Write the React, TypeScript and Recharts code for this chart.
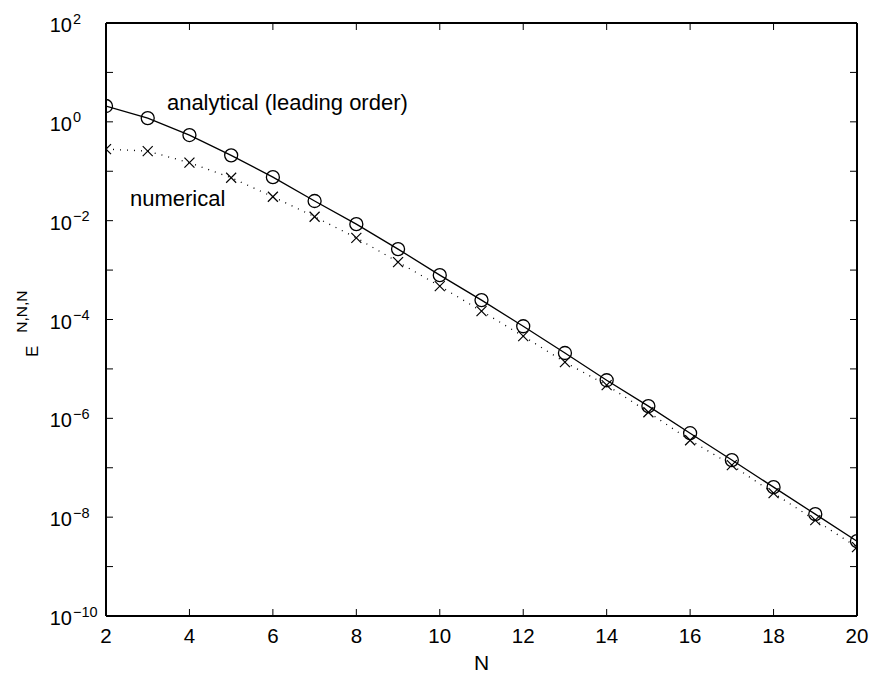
import React from 'react';
import {
  ComposedChart,
  Line,
  XAxis,
  YAxis,
  ReferenceLine,
  ReferenceDot,
} from 'recharts';

// N values and E^{N,N,N}
const nValues = [2, 3, 4, 5, 6, 7, 8, 9, 10, 11, 12, 13, 14, 15, 16, 17, 18, 19, 20];
const analytical = [
  2.09, 1.19, 0.54, 0.21, 0.076, 0.025, 0.0085, 0.00266, 7.9e-4, 2.47e-4,
  7.3e-5, 2.1e-5, 5.9e-6, 1.77e-6, 5.0e-7, 1.43e-7, 4.05e-8, 1.15e-8, 3.27e-9,
];
const numerical = [
  0.28, 0.256, 0.149, 0.074, 0.0305, 0.012, 0.0045, 1.45e-3, 4.74e-4, 1.48e-4,
  4.6e-5, 1.37e-5, 4.7e-6, 1.33e-6, 3.6e-7, 1.13e-7, 3.06e-8, 8.7e-9, 2.47e-9,
];
const xTicks = [2, 4, 6, 8, 10, 12, 14, 16, 18, 20];
const yTicks = [1e-10, 1e-9, 1e-8, 1e-7, 1e-6, 1e-5, 1e-4, 1e-3, 1e-2, 1e-1, 1, 10, 100];

const W = 873;
const H = 677;
const PLOT_LEFT = 106;
const PLOT_TOP = 23;
const PLOT_RIGHT = 857;
const PLOT_BOTTOM = 616;
const PLOT_W = PLOT_RIGHT - PLOT_LEFT;
const PLOT_H = PLOT_BOTTOM - PLOT_TOP;
const Y_AXIS_W = 60;
const X_AXIS_H = 40;
const TICK_LEN = 7;
const FONT = '"Liberation Sans", Arial, Helvetica, sans-serif';

const data = nValues.map((n, i) => ({ n, analytical: analytical[i], numerical: numerical[i] }));

function YTick(props: any) {
  const { x, y, payload } = props;
  const exp = Math.round(Math.log10(payload.value));
  const showLabel = exp % 2 === 0;
  const expText = exp < 0 ? `\u2212${Math.abs(exp)}` : `${exp}`;
  return (
    <g>
      <line x1={x} x2={x + TICK_LEN} y1={y} y2={y} stroke="#000" strokeWidth={1} />
      <line x1={x + PLOT_W} x2={x + PLOT_W - TICK_LEN} y1={y} y2={y} stroke="#000" strokeWidth={1} />
      {showLabel && (
        <>
          <text x={x - 34} y={y + 9} textAnchor="end" fontSize={20} fontFamily={FONT} fill="#000">
            10
          </text>
          <text x={x - 33} y={y + 0.5} textAnchor="start" fontSize={14.5} fontFamily={FONT} fill="#000">
            {expText}
          </text>
        </>
      )}
    </g>
  );
}

function XTick(props: any) {
  const { x, y, payload } = props;
  return (
    <g>
      <line x1={x} x2={x} y1={y} y2={y - TICK_LEN} stroke="#000" strokeWidth={1} />
      <line x1={x} x2={x} y1={y - PLOT_H} y2={y - PLOT_H + TICK_LEN} stroke="#000" strokeWidth={1} />
      <text x={x} y={y + 27} textAnchor="middle" fontSize={20.5} fontFamily={FONT} fill="#000">
        {payload.value}
      </text>
    </g>
  );
}

function CircleDot(props: any) {
  const { cx, cy } = props;
  if (cx == null || cy == null) return null;
  return <circle cx={cx} cy={cy} r={6.5} fill="none" stroke="#000" strokeWidth={1.3} />;
}

function CrossDot(props: any) {
  const { cx, cy } = props;
  if (cx == null || cy == null) return null;
  const s = 5;
  return (
    <g stroke="#000" strokeWidth={1.2}>
      <line x1={cx - s} y1={cy - s} x2={cx + s} y2={cy + s} />
      <line x1={cx - s} y1={cy + s} x2={cx + s} y2={cy - s} />
    </g>
  );
}

const textAt = (label: string) => (p: any) => (
  <text x={p.cx} y={p.cy} fontSize={22} fontFamily={FONT} fill="#000">
    {label}
  </text>
);

const YLabel = () => (
  <text
    transform={`translate(38, 357) rotate(-90)`}
    fontFamily={FONT}
    fill="#000"
  >
    <tspan fontSize={17}>E</tspan>
    <tspan fontSize={15.5} dx={13} dy={-11}>
      N,N,N
    </tspan>
  </text>
);

const XLabel = () => (
  <text x={(PLOT_LEFT + PLOT_RIGHT) / 2} y={670} textAnchor="middle" fontSize={21} fontFamily={FONT} fill="#000">
    N
  </text>
);

export default function App() {
  return (
    <div style={{ position: 'absolute', left: 0, top: 0, width: W, height: H, background: '#fff' }}>
      <ComposedChart
        width={W}
        height={H}
        data={data}
        margin={{
          top: PLOT_TOP,
          right: W - PLOT_RIGHT,
          left: PLOT_LEFT - Y_AXIS_W,
          bottom: H - PLOT_BOTTOM - X_AXIS_H,
        }}
      >
        <XAxis
          dataKey="n"
          type="number"
          domain={[2, 20]}
          ticks={xTicks}
          interval={0}
          height={X_AXIS_H}
          tickSize={0}
          tickMargin={0}
          tick={<XTick />}
          axisLine={{ stroke: '#000', strokeWidth: 2 }}
          tickLine={false}
          allowDataOverflow
          label={{ content: XLabel }}
        />
        <YAxis
          type="number"
          scale="log"
          domain={[1e-10, 100]}
          ticks={yTicks}
          interval={0}
          width={Y_AXIS_W}
          tickSize={0}
          tickMargin={0}
          tick={<YTick />}
          axisLine={{ stroke: '#000', strokeWidth: 2 }}
          tickLine={false}
          allowDataOverflow
          label={{ content: YLabel }}
        />
        <ReferenceLine y={100} stroke="#000" strokeWidth={2} />
        <ReferenceLine x={20} stroke="#000" strokeWidth={2} />
        <Line
          dataKey="numerical"
          stroke="#000"
          strokeWidth={1.3}
          strokeDasharray="1 6"
          dot={<CrossDot />}
          activeDot={false}
          isAnimationActive={false}
        />
        <Line
          dataKey="analytical"
          stroke="#000"
          strokeWidth={1.3}
          dot={<CircleDot />}
          activeDot={false}
          isAnimationActive={false}
        />
        <ReferenceDot x={3.46} y={1.74} r={0} ifOverflow="visible" shape={textAt('analytical (leading order)')} />
        <ReferenceDot x={2.575} y={0.0198} r={0} ifOverflow="visible" shape={textAt('numerical')} />
      </ComposedChart>
    </div>
  );
}
